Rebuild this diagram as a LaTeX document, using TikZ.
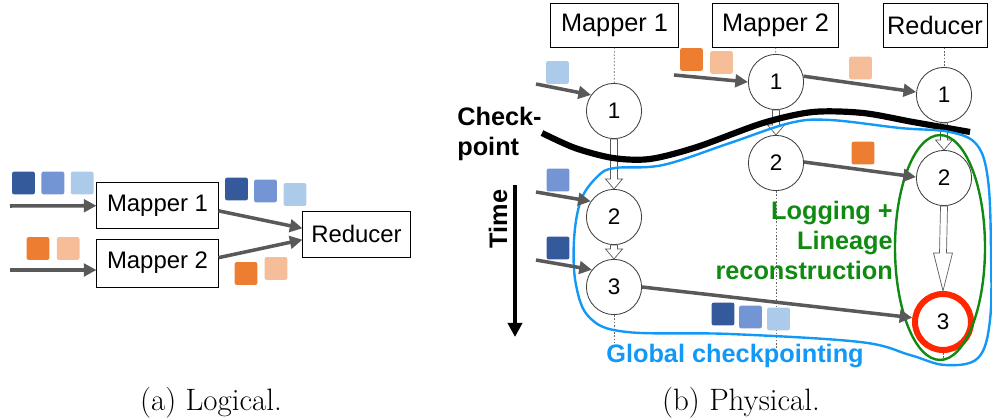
\documentclass[tikz,border=0pt]{standalone}
\usepackage{fontspec}
\setsansfont{Liberation Sans}
\usepackage{tikz}
\usetikzlibrary{positioning,arrows.meta,calc}

\definecolor{dblue}{RGB}{52,90,155}
\definecolor{mblue}{RGB}{115,149,211}
\definecolor{lblue}{RGB}{172,203,234}
\definecolor{dorange}{RGB}{237,125,49}
\definecolor{lorange}{RGB}{246,190,152}
\definecolor{arrgray}{RGB}{89,89,89}
\definecolor{ckblue}{RGB}{18,152,246}
\definecolor{lggreen}{RGB}{16,138,16}
\definecolor{failred}{RGB}{255,38,0}

% hollow arrow between two stages: from, to, head length, head half width
\newcommand{\hollowarr}[4]{\draw[hol] ($(#1.south)+(-3.5,0)$) -- ($(#2.north)+(-3.5,-#3)$) -- ($(#2.north)+(-#4,-#3)$) -- (#2.north) -- ($(#2.north)+(#4,-#3)$) -- ($(#2.north)+(3.5,-#3)$) -- ($(#1.south)+(3.5,0)$) -- cycle;}

\begin{document}
\begin{tikzpicture}[x=0.025cm,y=-0.025cm,
    every node/.style={font=\sffamily\fontsize{17}{20}\selectfont},
    proc/.style={draw,line width=0.6pt,inner sep=0pt,minimum height=1.08cm},
    stage/.style={circle,draw=black!75,line width=0.6pt,fill=white,minimum size=1.38cm,inner sep=0pt,font=\sffamily\fontsize{16}{19}\selectfont},
    pkt/.style={minimum size=0.57cm,inner sep=0pt,rounded corners=1.5pt},
    flow/.style={arrgray,line width=2.5pt,-{Triangle[length=9pt,width=9pt]}},
    hol/.style={draw=black!65,fill=white,line width=0.5pt},
    guide/.style={black!60,line width=0.5pt,dash pattern=on 1.2pt off 1.2pt},
    lbl/.style={font=\sffamily\bfseries\fontsize{18}{21.3}\selectfont,inner sep=0pt},
    captxt/.style={font=\rmfamily\fontsize{22}{26}\selectfont,inner sep=0pt}]
  \useasboundingbox (0,0) rectangle (992,419);

  % (a) logical
  \node[proc,minimum width=3.03cm,minimum height=1.13cm] (lm1) at (157.5,205.5) {Mapper 1};
  \node[proc,minimum width=3.03cm,minimum height=1.2cm] (lm2) at (157.5,263) {Mapper 2};
  \node[proc,minimum width=2.68cm,minimum height=1.15cm] (lr) at (356.5,234) {Reducer};
  \coordinate (li1) at (10,206); \coordinate (li2) at (10,270);
  \draw[flow] (li1)--(lm1); \draw[flow] (li2)--(li2 -| lm2.west);
  \draw[flow] (lm1.-5)--(lr.174); \draw[flow] (lm2.5)--(lr.186);
  \node[pkt,fill=dblue] (la1) at (23.5,183) {};
  \node[pkt,fill=mblue,right=0.15cm of la1] (la2) {};
  \node[pkt,fill=lblue,right=0.15cm of la2] (la3) {};
  \node[pkt,fill=dblue] (lb1) at (236.5,189) {};
  \node[pkt,fill=mblue] (lb2) at (265.5,191) {};
  \node[pkt,fill=lblue] (lb3) at (295,194.5) {};
  \node[pkt,fill=dorange] (lc1) at (38,248.5) {};
  \node[pkt,fill=lorange,right=0.17cm of lc1] (lc2) {};
  \node[pkt,fill=dorange] (ld1) at (246,273.5) {};
  \node[pkt,fill=lorange] (ld2) at (276,268.5) {};
  \node[captxt,anchor=base] (capa) at (211,410) {(a) Logical.};

  % (b) physical
  \begin{scope}[every node/.style={font=\sffamily\fontsize{18}{21}\selectfont}]
    \node[proc,minimum width=3.18cm] (m1) at (614.5,25.5) {Mapper 1};
    \node[proc,minimum width=3.13cm] (m2) at (775.5,25.5) {Mapper 2};
    \node[proc,minimum width=2.6cm] (r) at (935,25.5) {Reducer};
  \end{scope}
  \node[stage] (m1a) at (614,111) {1};
  \node[stage] (m1b) at (614,217) {2};
  \node[stage] (m1c) at (614,287) {3};
  \node[stage] (m2a) at (776,82) {1};
  \node[stage] (m2b) at (776,163) {2};
  \node[stage] (ra) at (944,95) {1};
  \node[stage] (rb) at (944,178) {2};
  \node[stage,draw=failred,line width=4.3pt,minimum size=1.4cm] (rc) at (943,322) {3};
  \coordinate (m1e) at (614,343); \coordinate (m2e) at (776,350); \coordinate (re) at (943,360);
  \draw[guide] (m1)--(m1a); \draw[guide] (m1c)--(m1e);
  \draw[guide] (m2)--(m2a); \draw[guide] (m2b)--(m2e);
  \draw[guide] (r.south -| ra.north)--(ra); \draw[guide] (rc)--(re);
  \hollowarr{m1a}{m1b}{10}{8.5}
  \hollowarr{m1b}{m1c}{10}{8.5}
  \hollowarr{m2a}{m2b}{10}{8.5}
  \hollowarr{ra}{rb}{10}{8.5}
  \hollowarr{rb}{rc}{38}{9.5}

  % checkpoint line and the two recovery regions
  \draw[line width=4.4pt] plot[smooth] coordinates {(542,133) (575,148) (613,158) (650,159) (697,147) (763,123) (813,112) (863,113) (913,122) (970,132)};
  \draw[ckblue,line width=1.7pt] plot[smooth cycle,tension=0.6] coordinates {(598,176) (581,200) (574,240) (576,285) (590,318) (627,332) (730,334) (860,342) (910,355) (945,365) (978,358) (990,320) (991,250) (988,180) (977,145) (950,132) (900,128) (830,120) (790,123) (730,143) (663,165) (615,168)};
  \draw[lggreen,line width=1.7pt] (940,247.5) ellipse [x radius=1.125cm,y radius=2.81cm];

  \coordinate (a1) at (536,84); \coordinate (a2) at (536,192); \coordinate (a3) at (536,260);
  \coordinate (a4) at (674,75);
  \draw[flow] (a1)--(m1a.145); \draw[flow] (a2)--(m1b.146); \draw[flow] (a3)--(m1c.142);
  \draw[flow] (a4)--(m2a.180);
  \draw[flow] (m2a.12)--(ra.174); \draw[flow] (m2b.2)--(rb.178);
  \draw[flow] (m1c.0)--(rc.172);

  \node[pkt,fill=lblue] (q1) at (557.5,72.5) {};
  \node[pkt,fill=mblue] (q2) at (558,180) {};
  \node[pkt,fill=dblue] (q3) at (558,248) {};
  \node[pkt,fill=dorange] (q4) at (691.5,59.5) {};
  \node[pkt,fill=lorange] (q5) at (721.5,62.5) {};
  \node[pkt,fill=lorange] (q6) at (860.5,68) {};
  \node[pkt,fill=dorange] (q7) at (863,153) {};
  \node[pkt,fill=dblue] (q8) at (723,314) {};
  \node[pkt,fill=mblue] (q9) at (750.5,317) {};
  \node[pkt,fill=lblue] (q10) at (778.5,319) {};

  \coordinate (t0) at (515,185); \coordinate (t1) at (515,337);
  \draw[line width=3.5pt,-{Triangle[length=10pt,width=10pt]}] (t0)--(t1);
  \node[lbl,rotate=90,anchor=base] (time) at (507,219) {Time};
  \node[lbl,anchor=north west,align=left] (ck) at (457,107) {Check-\\point};
  \node[lbl,lggreen,anchor=north east,align=right] (lin) at (893,201) {Logging +\\Lineage\\reconstruction};
  \node[lbl,ckblue,anchor=base] (glob) at (735,362) {Global checkpointing};
  \node[captxt,anchor=base] (capb) at (741,410) {(b) Physical.};
\end{tikzpicture}
\end{document}
